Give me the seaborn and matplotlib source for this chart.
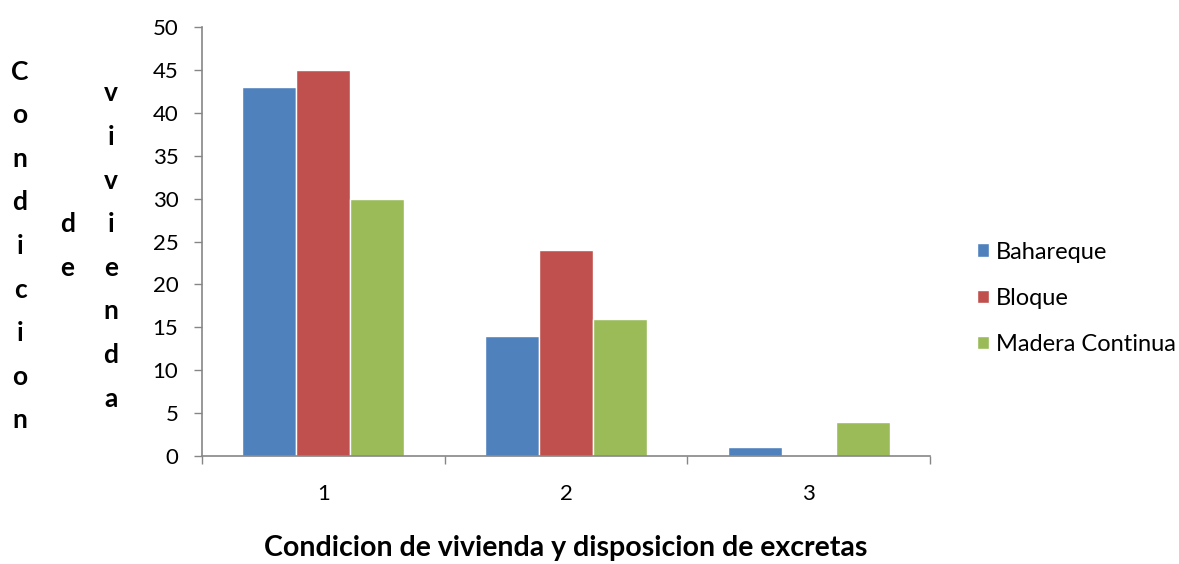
import matplotlib

matplotlib.use("Agg")

import matplotlib.pyplot as plt
import pandas as pd
import seaborn as sns

categories = ["1", "2", "3"]
bahareque = [43, 14, 1]
bloque = [45, 24, 0]
madera_continua = [30, 16, 4]
series_names = ["Bahareque", "Bloque", "Madera Continua"]
COLORS = ["#4F81BD", "#C0504D", "#9BBB59"]
AXIS_GREY = "#868686"

sns.set_theme(style="white")
plt.rcParams["font.family"] = ["Lato", "DejaVu Sans"]
plt.rcParams["text.color"] = "black"
plt.rcParams["axes.labelcolor"] = "black"
plt.rcParams["xtick.color"] = "black"
plt.rcParams["ytick.color"] = "black"

frame = pd.DataFrame(
    {
        "categoria": categories * 3,
        "serie": [n for n in series_names for _ in categories],
        "valor": bahareque + bloque + madera_continua,
    }
)

fig = plt.figure(figsize=(11.79, 5.64), dpi=100)
ax = fig.add_axes([0.1713, 0.1915, 0.6175, 0.7606])
sns.barplot(
    data=frame,
    x="categoria",
    y="valor",
    hue="serie",
    hue_order=series_names,
    palette=COLORS,
    width=2 / 3,
    saturation=1,
    ax=ax,
)

ax.set_xlim(-0.5, 2.5)
ax.set_ylim(0, 50)
ax.set_yticks(range(0, 51, 5))
ax.tick_params(axis="y", length=6, width=1, color=AXIS_GREY, labelsize=16, pad=11, left=True)

# Excel-style category ticks on the boundaries, labels centred in between
ax.set_xticks([-0.5, 0.5, 1.5, 2.5])
ax.set_xticklabels([])
ax.set_xticks(range(len(categories)), minor=True)
ax.set_xticklabels(categories, minor=True, fontsize=16)
ax.tick_params(axis="x", which="major", length=5.5, width=1, color=AXIS_GREY, bottom=True)
ax.tick_params(axis="x", which="minor", length=0, pad=20)

for side in ["top", "right"]:
    ax.spines[side].set_visible(False)
for side in ["left", "bottom"]:
    ax.spines[side].set_color(AXIS_GREY)
    ax.spines[side].set_linewidth(1.2)

ax.set_xlabel("Condicion de vivienda y disposicion de excretas", fontsize=20.5, fontweight="bold")
ax.xaxis.set_label_coords(0.5, -0.185)
ax.set_ylabel("")

for word, x in [("Condicion", 0.017), ("de", 0.057), ("vivienda", 0.094)]:
    fig.text(x, 0.564, "\n".join(word), ha="center", va="center",
             fontsize=19, fontweight="bold", linespacing=1.98)

ax.legend(
    title=None,
    loc="center left",
    bbox_to_anchor=(1.052, 0.368),
    borderaxespad=0,
    frameon=False,
    fontsize=17,
    handlelength=0.5,
    handleheight=0.5,
    handletextpad=0.3,
    labelspacing=1.06,
)

fig.savefig("out.png", dpi=100, facecolor="white")
